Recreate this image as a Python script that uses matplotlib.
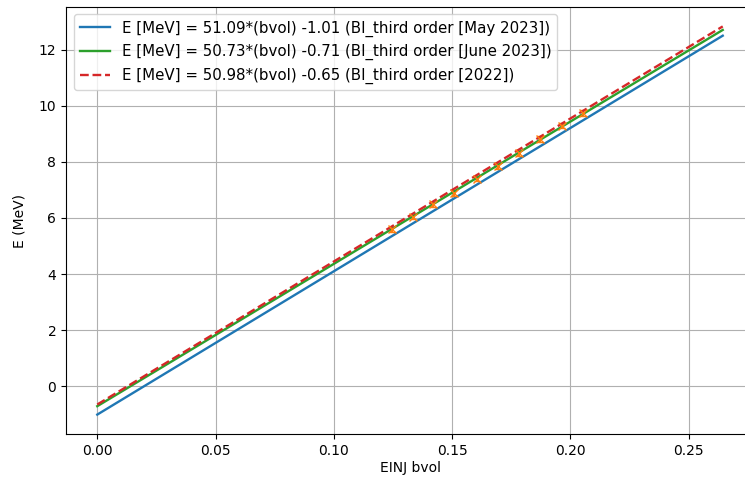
import numpy as np
import matplotlib
matplotlib.use("Agg")
import matplotlib.pyplot as plt

# fit lines: E = slope * bvol + offset
x_range = [0.0, 0.2644]
fits = [
    ("May 2023", 51.09, -1.01),
    ("June 2023", 50.73, -0.71),
    ("2022", 50.98, -0.65),
]

# measured points (orange)
bvol_meas = [0.1246, 0.1334, 0.1419, 0.1508, 0.1605, 0.1693, 0.1782, 0.1871, 0.1964, 0.2052]
e_meas = [5.59, 6.05, 6.48, 6.90, 7.40, 7.86, 8.32, 8.81, 9.29, 9.75]
e_err = [0.1] * len(e_meas)

fig = plt.figure(figsize=(7.45, 4.86), dpi=100)
ax = fig.add_axes([66 / 745, 52 / 486, 688 / 745, 427 / 486])

x = np.array(x_range)

name, m, b = fits[0]
ax.plot(x, m * x + b, color='C0', linewidth=1.7,
        label=f'E [MeV] = {m:.2f}*(bvol) {b:.2f} (BI_third order [{name}])')

ax.errorbar(bvol_meas, e_meas, yerr=e_err, fmt='x', color='C1', capsize=2.5, markersize=6)

name, m, b = fits[1]
ax.plot(x, m * x + b, color='C2', linewidth=1.7,
        label=f'E [MeV] = {m:.2f}*(bvol) {b:.2f} (BI_third order [{name}])')

name, m, b = fits[2]
ax.plot(x, m * x + b, color='C3', linestyle='--', linewidth=1.7,
        label=f'E [MeV] = {m:.2f}*(bvol) {b:.2f} (BI_third order [{name}])')

ax.set_xlabel('EINJ bvol', labelpad=2)
ax.set_ylabel('E (MeV)', labelpad=9)
ax.grid(True)
ax.legend(loc='upper left', fontsize=10.8)

fig.savefig('out.png', dpi=100)
